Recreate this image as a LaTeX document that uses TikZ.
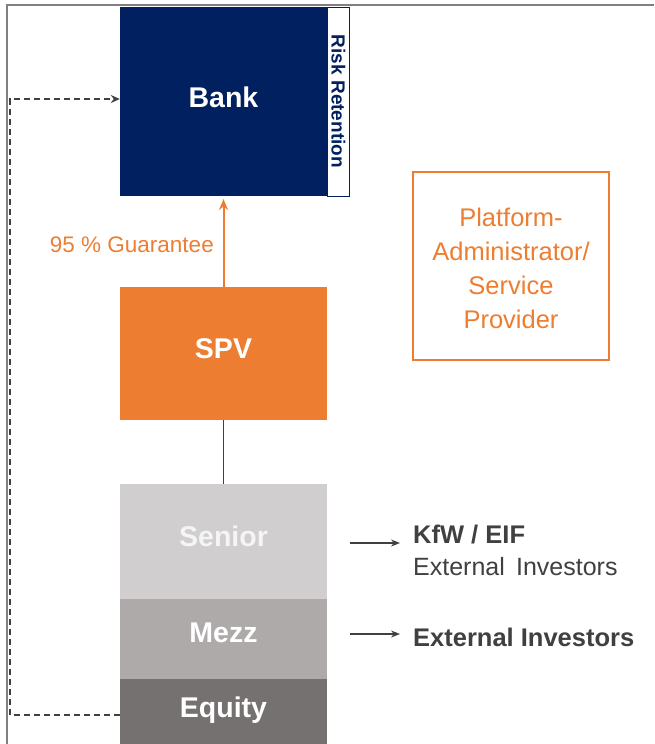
\documentclass[tikz,border=0pt]{standalone}
\usepackage{fontspec}
\setmainfont{Liberation Sans}
\usetikzlibrary{arrows.meta}
\definecolor{navy}{RGB}{0,32,96}
\definecolor{orng}{RGB}{237,125,49}
\definecolor{tSenior}{RGB}{208,206,206}
\definecolor{tMezz}{RGB}{174,170,170}
\definecolor{tEquity}{RGB}{118,113,113}
\definecolor{txtgray}{RGB}{64,64,64}
\definecolor{framegray}{RGB}{128,128,128}
\tikzset{
  block/.style={draw=none, minimum width=207pt, inner sep=0pt},
  blocklabel/.style={text=white, font=\bfseries\fontsize{28.5}{30}\selectfont, inner sep=0pt},
  invarrow/.style={-{Stealth[length=9pt,width=7pt]}, line width=1.3pt, draw=txtgray},
  invtext/.style={anchor=west, text=txtgray, inner sep=0pt, align=left},
}
\begin{document}
\begin{tikzpicture}[x=1pt,y=-1pt]
\useasboundingbox (0,0) rectangle (654,744);
% outer frame (top and left edges)
\draw[framegray, line width=1.8pt] (654,5) -- (7,5) -- (7,744);

% Bank with risk-retention strip
\node[block, fill=navy, minimum height=189pt] (bank) at (223.5,101.5) {};
\node[blocklabel] (banktext) at (223.5,97) {Bank};
\node[draw=navy, fill=white, line width=1pt, minimum width=22pt, minimum height=189pt, inner sep=0pt] (rr) at (338.5,101.5) {};
\node[rotate=-90, text=navy, font=\bfseries\fontsize{19}{21}\selectfont] (rrtext) at (rr.center) {Risk Retention};

% SPV
\node[block, fill=orng, minimum height=133pt] (spv) at (223.5,353.5) {};
\node[blocklabel] (spvtext) at (223.5,349) {SPV};

% guarantee arrow
\draw[orng, line width=2pt, -{Stealth[length=11pt,width=9pt]}] (spv.north) -- (bank.south |- 0,199) coordinate (garr);
\node[anchor=east, text=orng, font=\fontsize{22.5}{24}\selectfont, inner sep=0pt] (gtext) at (214,245) {95 \% Guarantee};

% platform administrator box
\node[draw=orng, line width=1.5pt, minimum width=196pt, minimum height=188pt] (plat) at (511,266) {};
\node[text=orng, align=center, inner sep=0pt, font=\fontsize{25.5}{34}\selectfont] (plattext) at (511,268) {Platform-\\Administrator/\\Service\\Provider};

% tranches
\node[block, fill=tSenior, minimum height=115pt] (sen) at (223.5,541.5) {};
\node[blocklabel, text=white!96!black] (sentext) at (223.5,536) {Senior};
\node[block, fill=tMezz, minimum height=80pt] (mezz) at (223.5,639) {};
\node[blocklabel] (mezztext) at (223.5,633) {Mezz};
\node[block, fill=tEquity, minimum height=65pt] (eq) at (223.5,711.5) {};
\node[blocklabel] (eqtext) at (223.5,710) {Equity};

% SPV to notes
\draw[txtgray, line width=1.4pt] (spv.south) -- (sen.north);

% investors
\coordinate (a1s) at (350,543);
\coordinate (a1e) at (400,543);
\draw[invarrow] (a1s) -- (a1e);
\node[invtext, font=\bfseries\fontsize{25.5}{27}\selectfont] (kfw) at (413,535) {KfW / EIF};
\node[invtext, font=\fontsize{25}{27}\selectfont] (ext1) at (413,567) {External\hspace{0.45em}Investors};
\coordinate (a2s) at (350,634);
\coordinate (a2e) at (400,634);
\draw[invarrow] (a2s) -- (a2e);
\node[invtext, font=\bfseries\fontsize{25.5}{27}\selectfont] (ext2) at (413,637) {External Investors};

% equity feedback to bank
\coordinate (eqout) at (eq.west |- 0,715);
\draw[txtgray, line width=1.4pt, dash pattern=on 6pt off 4pt, -{Stealth[length=9pt,width=8pt]}]
  (eqout) -- (10,715) |- (bank.west |- 0,99);
\end{tikzpicture}
\end{document}
